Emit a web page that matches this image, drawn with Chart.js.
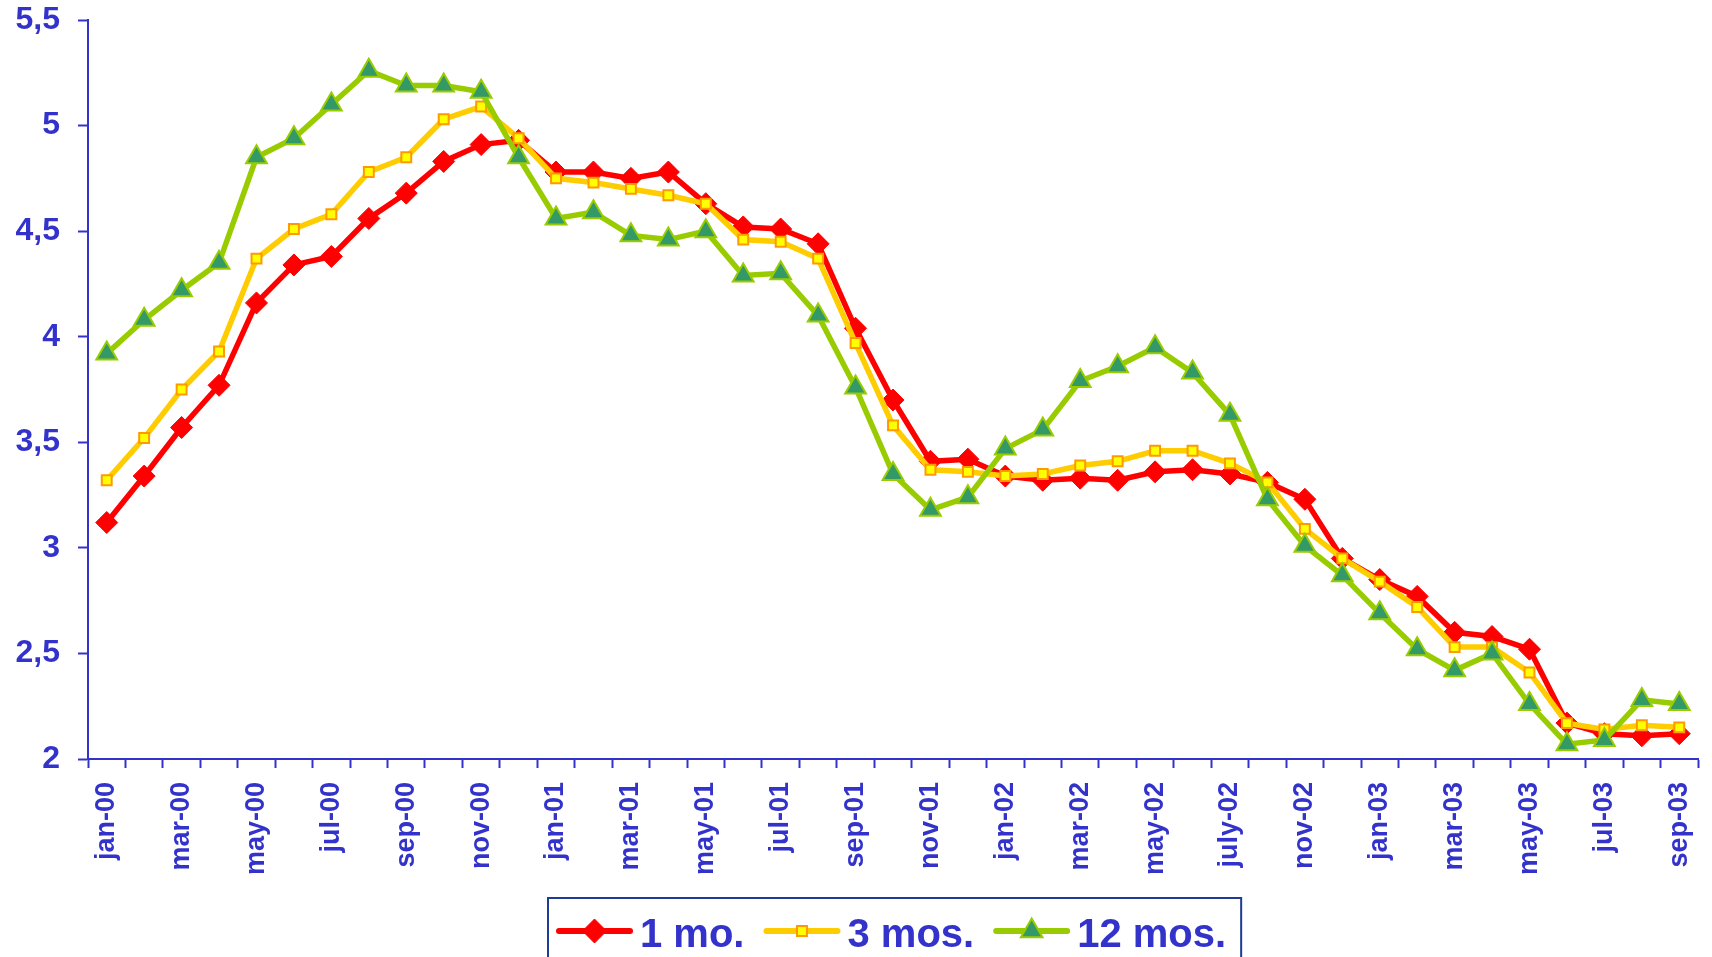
<!DOCTYPE html>
<html>
<head>
<meta charset="utf-8">
<title>Tasas 1, 3 y 12 meses</title>
<script src="https://cdn.jsdelivr.net/npm/chart.js@4.4.1/dist/chart.umd.min.js"></script>
<style>
  html, body { margin: 0; padding: 0; background: #ffffff; overflow: hidden; }
  #wrap { position: relative; width: 1712px; height: 957px; }
  canvas { display: block; }
</style>
</head>
<body>
<div id="wrap"><canvas id="chart" width="1712" height="957"></canvas></div>
<script>
// Monthly categories (one month between july-02 and nov-02 is reported as a single observation)
const months = [
  'jan-00', 'feb-00', 'mar-00', 'apr-00', 'may-00', 'jun-00', 'jul-00', 'aug-00', 'sep-00', 'oct-00', 'nov-00', 'dec-00',
  'jan-01', 'feb-01', 'mar-01', 'apr-01', 'may-01', 'jun-01', 'jul-01', 'aug-01', 'sep-01', 'oct-01', 'nov-01', 'dec-01',
  'jan-02', 'feb-02', 'mar-02', 'apr-02', 'may-02', 'jun-02', 'july-02', 'sep-02', 'nov-02', 'dec-02',
  'jan-03', 'feb-03', 'mar-03', 'apr-03', 'may-03', 'jun-03', 'jul-03', 'aug-03', 'sep-03'
];

// Series names
const seriesNames = ['1 mo.', '3 mos.', '12 mos.'];

// Rates by maturity
const oneMonth = [
  3.12, 3.34, 3.57, 3.77, 4.16, 4.34, 4.38, 4.56, 4.68, 4.83, 4.91, 4.93,
  4.78, 4.78, 4.75, 4.78, 4.63, 4.52, 4.51, 4.44, 4.04, 3.70, 3.41, 3.42,
  3.34, 3.32, 3.33, 3.32, 3.36, 3.37, 3.35, 3.31, 3.23, 2.95,
  2.85, 2.77, 2.60, 2.58, 2.52, 2.17, 2.12, 2.11, 2.12
];
const threeMonths = [
  3.32, 3.52, 3.75, 3.93, 4.37, 4.51, 4.58, 4.78, 4.85, 5.03, 5.09, 4.94,
  4.75, 4.73, 4.70, 4.67, 4.63, 4.46, 4.45, 4.37, 3.97, 3.58, 3.37, 3.36,
  3.34, 3.35, 3.39, 3.41, 3.46, 3.46, 3.40, 3.31, 3.09, 2.95,
  2.84, 2.72, 2.53, 2.53, 2.41, 2.17, 2.14, 2.16, 2.15
];
const twelveMonths = [
  3.92, 4.08, 4.22, 4.35, 4.85, 4.94, 5.10, 5.26, 5.19, 5.19, 5.16, 4.85,
  4.56, 4.59, 4.48, 4.46, 4.50, 4.29, 4.30, 4.10, 3.76, 3.35, 3.18, 3.24,
  3.47, 3.56, 3.79, 3.86, 3.95, 3.83, 3.63, 3.23, 3.01, 2.87,
  2.69, 2.52, 2.42, 2.50, 2.26, 2.07, 2.09, 2.28, 2.26
];

// Value axis range
const yMin = 2;
const yMax = 5.5;
const yStep = 0.5;

const FONT = '"Liberation Sans", Arial, Helvetica, sans-serif';
const AXIS_BLUE = '#3333CC';

Chart.defaults.font.family = FONT;

// Boxed legend under the plot: line sample with its marker, then the series name
const boxLegend = {
  id: 'boxLegend',
  afterDraw(chart) {
    const ctx = chart.ctx;
    const left = 548, top = 898;
    const lineLen = 71, lineY = 931, baseY = 947;
    const textGap = 10, itemGap = 22;
    ctx.save();
    ctx.font = 'bold 40px ' + FONT;
    ctx.textBaseline = 'alphabetic';
    ctx.textAlign = 'left';
    let x = left + 11;
    chart.data.datasets.forEach(ds => {
      ctx.strokeStyle = ds.borderColor;
      ctx.lineWidth = 6;
      ctx.lineCap = 'round';
      ctx.beginPath();
      ctx.moveTo(x, lineY);
      ctx.lineTo(x + lineLen, lineY);
      ctx.stroke();
      ctx.fillStyle = ds.pointBackgroundColor;
      ctx.strokeStyle = ds.pointBorderColor;
      ctx.lineWidth = ds.pointBorderWidth;
      ctx.lineCap = 'butt';
      Chart.helpers.drawPoint(ctx, {
        pointStyle: ds.pointStyle,
        radius: ds.legendRadius,
        borderWidth: ds.pointBorderWidth,
        rotation: 0
      }, x + lineLen / 2, lineY);
      const tx = x + lineLen + textGap;
      ctx.fillStyle = AXIS_BLUE;
      ctx.fillText(ds.label, tx, baseY);
      x = tx + ctx.measureText(ds.label).width + itemGap;
    });
    const right = x - itemGap + 15;
    ctx.strokeStyle = '#1E3C96';
    ctx.lineWidth = 2;
    ctx.strokeRect(left, top, right - left, 120);
    ctx.restore();
  }
};

new Chart(document.getElementById('chart'), {
  type: 'line',
  data: {
    labels: months,
    datasets: [
      {
        label: seriesNames[0],
        data: oneMonth,
        order: 3,
        borderColor: '#FF0000',
        borderWidth: 5.5,
        pointStyle: 'rectRot',
        pointRadius: 11,
        legendRadius: 12,
        pointBackgroundColor: '#FF0000',
        pointBorderColor: '#FF0000',
        pointBorderWidth: 1
      },
      {
        label: seriesNames[1],
        data: threeMonths,
        order: 2,
        borderColor: '#FFCC00',
        borderWidth: 5.5,
        pointStyle: 'rect',
        pointRadius: 7,
        legendRadius: 7,
        pointBackgroundColor: '#FFFF00',
        pointBorderColor: '#FF9900',
        pointBorderWidth: 2
      },
      {
        label: seriesNames[2],
        data: twelveMonths,
        order: 1,
        borderColor: '#99CC00',
        borderWidth: 5.5,
        pointStyle: 'triangle',
        pointRadius: 12,
        legendRadius: 12.5,
        pointBackgroundColor: '#339966',
        pointBorderColor: '#99CC00',
        pointBorderWidth: 2
      }
    ]
  },
  options: {
    responsive: false,
    animation: false,
    events: [],
    layout: { padding: { top: 20, right: 8, bottom: 0, left: 0 } },
    plugins: {
      legend: { display: false },
      tooltip: { enabled: false }
    },
    elements: { line: { tension: 0 } },
    scales: {
      x: {
        type: 'category',
        offset: true,
        grid: {
          offset: true,
          drawOnChartArea: false,
          drawTicks: true,
          tickLength: 9,
          tickColor: AXIS_BLUE,
          tickWidth: 2
        },
        border: { display: true, color: AXIS_BLUE, width: 2 },
        ticks: {
          autoSkip: false,
          maxRotation: 90,
          minRotation: 90,
          padding: 14,
          color: AXIS_BLUE,
          font: { size: 27, weight: 'bold', family: FONT },
          callback: (value, index) => (index % 2 === 0 ? months[index] : '')
        },
        afterFit(scale) {
          scale.height = 198;
          scale.paddingLeft = 0;
          scale.paddingRight = 0;
        }
      },
      y: {
        min: yMin,
        max: yMax,
        grid: {
          drawOnChartArea: false,
          drawTicks: true,
          tickLength: 10,
          tickColor: AXIS_BLUE,
          tickWidth: 2
        },
        border: { display: true, color: AXIS_BLUE, width: 2 },
        ticks: {
          stepSize: yStep,
          padding: 18,
          color: AXIS_BLUE,
          font: { size: 32, weight: 'bold', family: FONT },
          callback: v => String(v).replace('.', ',')
        },
        afterFit(scale) {
          scale.width = 88;
          scale.paddingTop = 0;
          scale.paddingBottom = 0;
        }
      }
    }
  },
  plugins: [boxLegend]
});
</script>
</body>
</html>
